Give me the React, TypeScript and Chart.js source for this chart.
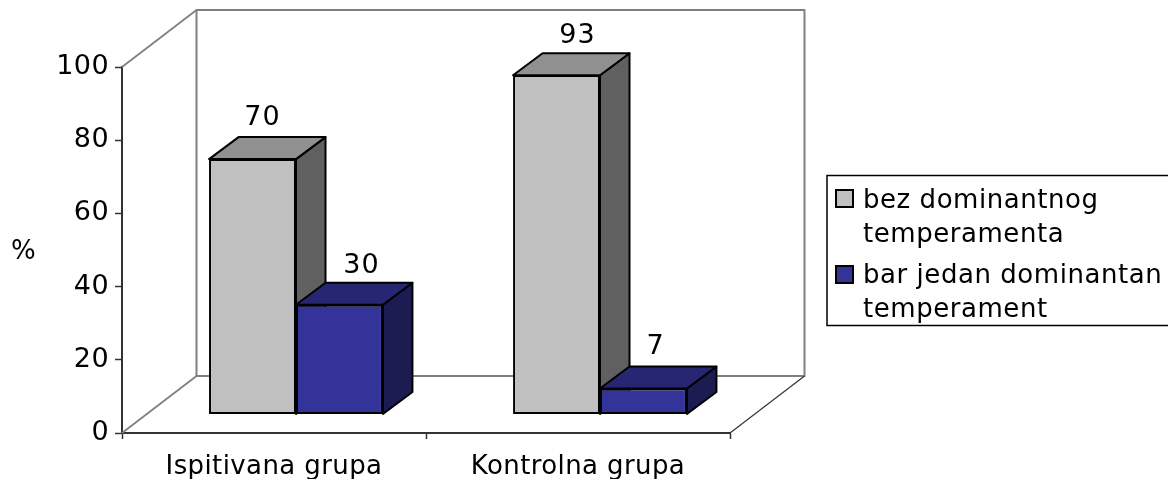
import React, { useEffect, useRef } from "react";
import { Chart, registerables } from "chart.js";

Chart.register(...registerables);

const categories = ["Ispitivana grupa", "Kontrolna grupa"];
const seriesNames = ["bez dominantnog temperamenta", "bar jedan dominantan temperament"];
const legendLines = [
  ["bez dominantnog", "temperamenta"],
  ["bar jedan dominantan", "temperament"],
];
const noDominant = [70, 93];
const atLeastOne = [30, 7];
const yTitle = "%";

const FONT = '"DejaVu Sans", Verdana, sans-serif';
const FRONT = ["#C0C0C0", "#333399"];
const TOP = ["#909090", "#262673"];
const SIDE = ["#606060", "#1C1C52"];
const WALL_DX = 74.5;
const WALL_DY = -57;
const BAR_DX = 22;
const BAR_DY = -19;
const DEPTH_X = 29.5;
const DEPTH_Y = -22;
const LABEL_NUDGE = [
  [10, 21],
  [22, 12],
];
const LABEL_RAISE = [
  [34, 32],
  [32, 35],
];

function poly(ctx: CanvasRenderingContext2D, pts: number[][], fill: string | null, stroke: string, lw: number) {
  ctx.beginPath();
  pts.forEach((p, i) => (i ? ctx.lineTo(p[0], p[1]) : ctx.moveTo(p[0], p[1])));
  if (fill) {
    ctx.closePath();
    ctx.fillStyle = fill;
    ctx.fill();
  }
  ctx.strokeStyle = stroke;
  ctx.lineWidth = lw;
  ctx.lineJoin = "round";
  ctx.stroke();
}

const scene3d = {
  id: "scene3d",
  beforeDraw(chart: any) {
    chart.ctx.letterSpacing = "0.4px";
  },
  beforeDatasetsDraw(chart: any) {
    const { ctx, chartArea: a } = chart;
    const bx = a.left + WALL_DX;
    const rx = a.right + WALL_DX;
    const ty = a.top + WALL_DY;
    const by = a.bottom + WALL_DY;
    ctx.save();
    poly(ctx, [[bx, by], [bx, ty], [rx, ty], [rx, by], [bx, by]], null, "#808080", 2);
    poly(ctx, [[a.left, a.top], [bx, ty]], null, "#808080", 1.8);
    poly(ctx, [[a.left, a.bottom], [bx, by]], null, "#808080", 1.8);
    poly(ctx, [[rx, by], [a.right, a.bottom]], null, "#333333", 1.2);
    // side and top faces, back series first so the nearer series overlaps it
    [0, 1].forEach((i) => {
      chart.getDatasetMeta(i).data.forEach((bar: any) => {
        const l = bar.x - bar.width / 2 + BAR_DX;
        const r = bar.x + bar.width / 2 + BAR_DX;
        const t = bar.y + BAR_DY;
        const b = bar.base + BAR_DY;
        poly(ctx, [[r, t], [r + DEPTH_X, t + DEPTH_Y], [r + DEPTH_X, b + DEPTH_Y], [r, b]], SIDE[i], "#000000", 2);
        poly(ctx, [[l, t], [l + DEPTH_X, t + DEPTH_Y], [r + DEPTH_X, t + DEPTH_Y], [r, t]], TOP[i], "#000000", 2);
      });
    });
    ctx.restore();
  },
  beforeDatasetDraw(chart: any) {
    chart.ctx.save();
    chart.ctx.translate(BAR_DX, BAR_DY);
  },
  afterDatasetDraw(chart: any) {
    chart.ctx.restore();
  },
  afterDatasetsDraw(chart: any) {
    const { ctx } = chart;
    ctx.save();
    ctx.fillStyle = "#000000";
    ctx.font = `27px ${FONT}`;
    ctx.letterSpacing = "1px";
    ctx.textAlign = "center";
    ctx.textBaseline = "alphabetic";
    chart.data.datasets.forEach((ds: any, i: number) => {
      chart.getDatasetMeta(i).data.forEach((bar: any, j: number) => {
        ctx.fillText(String(ds.data[j]), bar.x + BAR_DX + LABEL_NUDGE[i][j], bar.y + BAR_DY - LABEL_RAISE[i][j]);
      });
    });
    ctx.font = `26px ${FONT}`;
    ctx.textAlign = "left";
    ctx.fillText(yTitle, 11, 259);

    ctx.strokeStyle = "#000000";
    ctx.lineWidth = 1.5;
    ctx.strokeRect(827, 175.5, 400, 150);
    ctx.letterSpacing = "0.55px";
    const swatchY = [190, 266];
    const baselines = [
      [208, 242],
      [283, 317],
    ];
    legendLines.forEach((lines, i) => {
      ctx.fillStyle = FRONT[i];
      ctx.fillRect(836, swatchY[i], 17, 17);
      ctx.lineWidth = 2;
      ctx.strokeRect(836, swatchY[i], 17, 17);
      ctx.fillStyle = "#000000";
      lines.forEach((t, k) => ctx.fillText(t, 863, baselines[i][k]));
    });
    ctx.restore();
  },
};

export default function App() {
  const ref = useRef<HTMLCanvasElement>(null);
  useEffect(() => {
    document.body.style.margin = "0";
    const chart = new Chart(ref.current as HTMLCanvasElement, {
      type: "bar",
      data: {
        labels: categories,
        datasets: [
          { label: seriesNames[0], data: noDominant, backgroundColor: FRONT[0] },
          { label: seriesNames[1], data: atLeastOne, backgroundColor: FRONT[1] },
        ].map((d) => ({
          ...d,
          borderColor: "#000000",
          borderWidth: 2,
          borderSkipped: false,
          barPercentage: 1,
          categoryPercentage: 0.572,
          yAxisID: "yBars",
        })),
      },
      options: {
        responsive: false,
        animation: false,
        layout: { padding: { top: 67, right: 438, left: 0, bottom: 0 } },
        plugins: { legend: { display: false }, tooltip: { enabled: false } },
        scales: {
          x: {
            afterFit: (s: any) => { s.height = 46; },
            grid: { drawOnChartArea: false, tickColor: "#333333", tickLength: 6, tickWidth: 1.5 },
            border: { color: "#333333", width: 2 },
            ticks: { color: "#000000", font: { family: FONT, size: 26 }, padding: 13, maxRotation: 0 },
          },
          y: {
            min: 0,
            max: 100,
            afterFit: (s: any) => { s.width = 122; },
            grid: { drawOnChartArea: false, tickColor: "#333333", tickLength: 7, tickWidth: 1.5 },
            border: { color: "#333333", width: 2 },
            ticks: { stepSize: 20, color: "#000000", font: { family: FONT, size: 27 }, padding: 6 },
          },
          yBars: { display: false, min: 0, max: 100.5 },
        },
      },
      plugins: [scene3d],
    } as any);
    return () => chart.destroy();
  }, []);
  return <canvas ref={ref} width={1168} height={479} style={{ display: "block" }} />;
}
